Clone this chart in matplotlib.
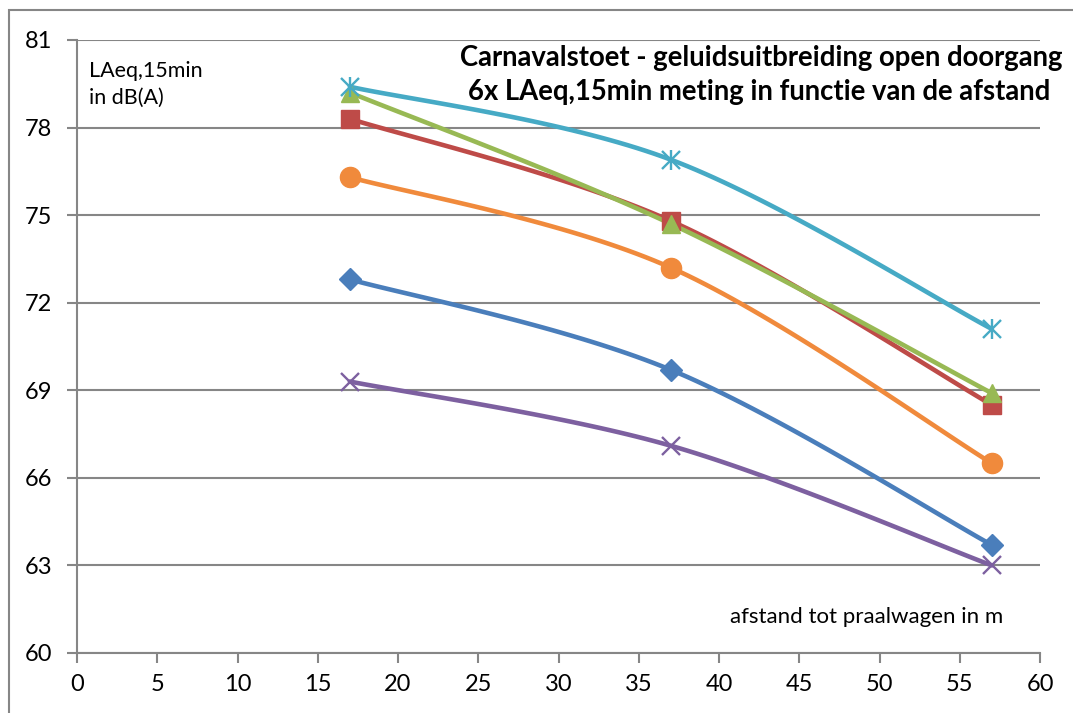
import numpy as np
import matplotlib.pyplot as plt
from matplotlib.patches import Rectangle

# afstand tot de praalwagen (m) en 6 metingen LAeq,15min (dB(A))
afstand = [17, 37, 57]
meting_1 = [72.8, 69.7, 63.7]
meting_2 = [78.3, 74.8, 68.5]
meting_3 = [79.2, 74.7, 68.9]
meting_4 = [69.3, 67.1, 63.0]
meting_5 = [79.4, 76.9, 71.1]
meting_6 = [76.3, 73.2, 66.5]

reeksen = [
    (meting_1, '#4A7EBB', 'D', 11.5),
    (meting_2, '#BE4B48', 's', 13.5),
    (meting_3, '#98B954', '^', 13.5),
    (meting_4, '#7D60A0', 'x', 13.5),
    (meting_5, '#46AAC5', '*', 0),
    (meting_6, '#F08A3C', 'o', 14.5),
]


def smooth(x, y, n=40):
    """Bezier-gladde lijn door de punten, zoals een 'vloeiende lijn' in Excel."""
    p = np.column_stack([x, y]).astype(float)
    pts = [p[0]] + list(p) + [p[-1]]
    out = []
    for i in range(len(p) - 1):
        p0, p1, p2, p3 = pts[i], pts[i + 1], pts[i + 2], pts[i + 3]
        c1 = p1 + (p2 - p0) / 6
        c2 = p2 - (p3 - p1) / 6
        t = np.linspace(0, 1, n)[:, None]
        seg = ((1 - t) ** 3) * p1 + 3 * ((1 - t) ** 2) * t * c1 \
            + 3 * (1 - t) * t ** 2 * c2 + t ** 3 * p2
        out.append(seg)
    seg = np.vstack(out)
    return seg[:, 0], seg[:, 1]


plt.rcParams['font.family'] = ['Lato', 'DejaVu Sans']

fig = plt.figure(figsize=(10.73, 7.13), dpi=100)
fig.patches.append(Rectangle((9 / 1073, -0.1), 1.2, 1 - 10 / 713 + 0.1,
                             transform=fig.transFigure, fill=False,
                             edgecolor='#868686', linewidth=1.5))
ax = fig.add_axes([77 / 1073, 1 - 653 / 713, 963 / 1073, 613 / 713])

for waarden, kleur, marker, ms in reeksen:
    xs, ys = smooth(afstand, waarden)
    ax.plot(xs, ys, color=kleur, linewidth=3.3, solid_capstyle='round', zorder=3)
    if marker == '*':
        # sterretje: x-kruis plus verticale streep
        ax.plot(afstand, waarden, linestyle='none', marker='x', markersize=13.5,
                markeredgewidth=1.7, color=kleur, zorder=4)
        ax.plot(afstand, waarden, linestyle='none', marker='|', markersize=15,
                markeredgewidth=1.7, color=kleur, zorder=4)
    elif marker == 'x':
        ax.plot(afstand, waarden, linestyle='none', marker='x', markersize=ms,
                markeredgewidth=1.7, color=kleur, zorder=4)
    else:
        ax.plot(afstand, waarden, linestyle='none', marker=marker, markersize=ms,
                color=kleur, markeredgecolor=kleur, zorder=4)

ax.set_xlim(0, 60)
ax.set_ylim(60, 81)
ax.set_xticks(range(0, 61, 5))
ax.set_yticks(range(60, 82, 3))
ax.grid(axis='y', color='#868686', linewidth=1.5)
ax.set_axisbelow(True)
for s in ['top', 'right']:
    ax.spines[s].set_visible(False)
for s in ['left', 'bottom']:
    ax.spines[s].set_color('#868686')
    ax.spines[s].set_linewidth(1.5)
ax.tick_params(axis='both', colors='#868686', labelcolor='black',
               labelsize=17, length=7, width=1.5)
ax.tick_params(axis='x', pad=8)
ax.tick_params(axis='y', pad=11)

ax.text(0.012, 0.965, 'LAeq,15min\nin dB(A)', transform=ax.transAxes,
        fontsize=15.5, va='top', ha='left', linespacing=1.4)
ax.text(0.962, 0.042, 'afstand tot praalwagen in m', transform=ax.transAxes,
        fontsize=16, va='bottom', ha='right')
fig.text(1062 / 1073, 1 - 58 / 713, 'Carnavalstoet - geluidsuitbreiding open doorgang',
         fontsize=19.8, fontweight='bold', ha='right', va='center')
fig.text(1050 / 1073, 1 - 92 / 713, '6x LAeq,15min meting in functie van de afstand',
         fontsize=19.8, fontweight='bold', ha='right', va='center')

fig.savefig('out.png', dpi=100)
